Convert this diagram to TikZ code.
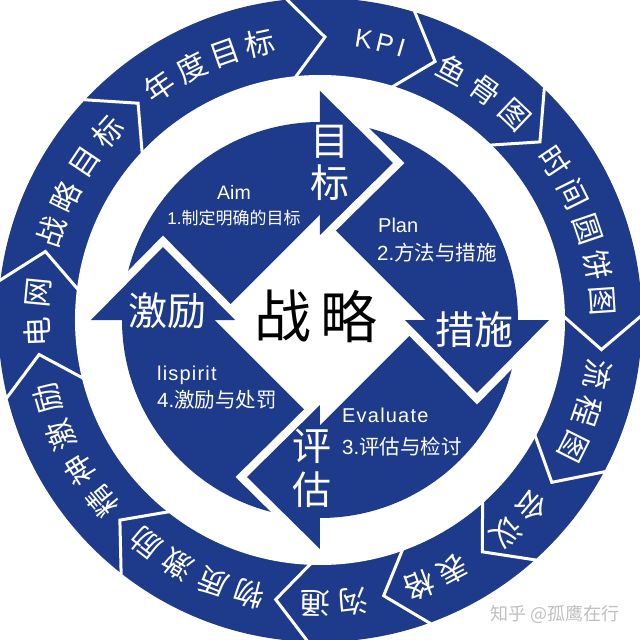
\documentclass[tikz,border=0pt]{standalone}
\usepackage{fontspec}
\setmainfont{Liberation Sans}
\newfontfamily\cjk{Noto Sans CJK SC}
\definecolor{navy}{RGB}{30,58,138}
\begin{document}
\begin{tikzpicture}[x=1pt,y=1pt,
  ringtxt/.style={font=\cjk\fontsize{30}{30}\selectfont, text=white, inner sep=0pt},
  ringlat/.style={font=\fontsize{26}{26}\selectfont, text=white, inner sep=0pt},
  bigtxt/.style={font=\cjk\fontsize{39}{39}\selectfont, text=white, inner sep=0pt},
  smalltxt/.style={font=\fontsize{20}{24}\selectfont, text=white, inner sep=0pt, anchor=west},
  gapline/.style={white, line width=16, line join=miter},
  sepline/.style={white, line width=3, line join=miter}]
\useasboundingbox (-320,-320) rectangle (320,320);
% outer ring
\begin{scope}
  \clip (-320,-320) rectangle (320,320);
  \fill[navy] (0,0) circle (322);
\end{scope}
\fill[white] (0,0) circle (245);
\foreach \a in {187,166,130,89,66,39,-6,-35,-55,-77,-99,-135}
  \draw[sepline] (\a+7:323) -- (\a:283) -- (\a+7:243);
% inner disc
\fill[navy] (0,0) circle (198);
% white gaps around the arrow heads
\foreach \k in {0,1,2,3}{
  \begin{scope}[rotate=-90*\k]
    \clip (0,-330) rectangle (330,330);
    \draw[gapline] (0,229) -- (73,157) -- (0,85);
  \end{scope}
}
% centre diamond
\fill[white] (0,105) -- (105,0) -- (0,-105) -- (-105,0) -- cycle;
% arrow heads
\foreach \k in {0,1,2,3}
  \fill[navy, rotate=-90*\k] (0,229) -- (73,157) -- (0,85) -- cycle;
% ring labels
\foreach \c/\a [count=\i] in {电/182.5, 网/174.5,
  战/161.8, 略/154.2, 目/146.2, 标/138.4,
  年/124.5, 度/117, 目/109.5, 标/102.2,
  鱼/62, 骨/54.3, 图/46.5,
  时/34, 间/26.5, 圆/18.8, 饼/11.2, 图/3.8,
  流/-11, 程/-18.9, 图/-26.6,
  会/-41.3, 议/-48.7,
  表/-62, 格/-69.5,
  沟/-83.3, 通/-91,
  物/255.6, 质/247.8, 激/239.8, 励/232,
  精/219.7, 神/212, 激/204, 励/196}
  \node[ringtxt, rotate=\a-90] (oc\i) at (\a:283) {\c};
\foreach \c/\a [count=\i] in {K/81.1, P/76.8, I/73.4}
  \node[ringlat, rotate=\a-90] (ol\i) at (\a:284) {\c};
% big arrow labels
\node[bigtxt] (mu) at (10,178) {目};
\node[bigtxt] (biao) at (10,137) {标};
\node[bigtxt] (cuoshi) at (154,-10) {措施};
\node[bigtxt] (ping) at (-8,-126) {评};
\node[bigtxt] (gu) at (-8,-170) {估};
\node[bigtxt] (jili) at (-152,9) {激励};
% centre
\node[font=\cjk\fontsize{57}{57}\selectfont, text=black, inner sep=0pt] (zhan) at (-37,3.5) {战};
\node[font=\cjk\fontsize{57}{57}\selectfont, text=black, inner sep=0pt] (lue) at (29,3.5) {略};
% quadrant texts
\node[font=\fontsize{19.5}{20}\selectfont, text=white, inner sep=0pt] (aim) at (-86,128) {Aim};
\node[font=\fontsize{17}{20}\selectfont, text=white, inner sep=0pt] (aim2) at (-86,101.5) {1.{\cjk 制定明确的目标}};
\node[smalltxt] (plan) at (58,94.5) {Plan};
\node[smalltxt, font=\fontsize{20.5}{24}\selectfont] (plan2) at (57,67.5) {2.{\cjk 方法与措施}};
\node[smalltxt, font=\addfontfeature{LetterSpace=6}\fontsize{20}{24}\selectfont] (eval) at (22,-95.5) {Evaluate};
\node[smalltxt, font=\fontsize{20.5}{24}\selectfont] (eval2) at (22,-126.5) {3.{\cjk 评估与检讨}};
\node[smalltxt, font=\addfontfeature{LetterSpace=6}\fontsize{20}{24}\selectfont] (spirit) at (-163,-55.5) {lispirit};
\node[smalltxt, font=\fontsize{20.5}{24}\selectfont] (spirit2) at (-163,-79.5) {4.{\cjk 激励与处罚}};
% watermark
\node[font=\cjk\fontsize{18}{20}\selectfont, text=black!25, inner sep=0pt] (wm) at (235,-294.5) {知乎 @孤鹰在行};
\end{tikzpicture}
\end{document}
